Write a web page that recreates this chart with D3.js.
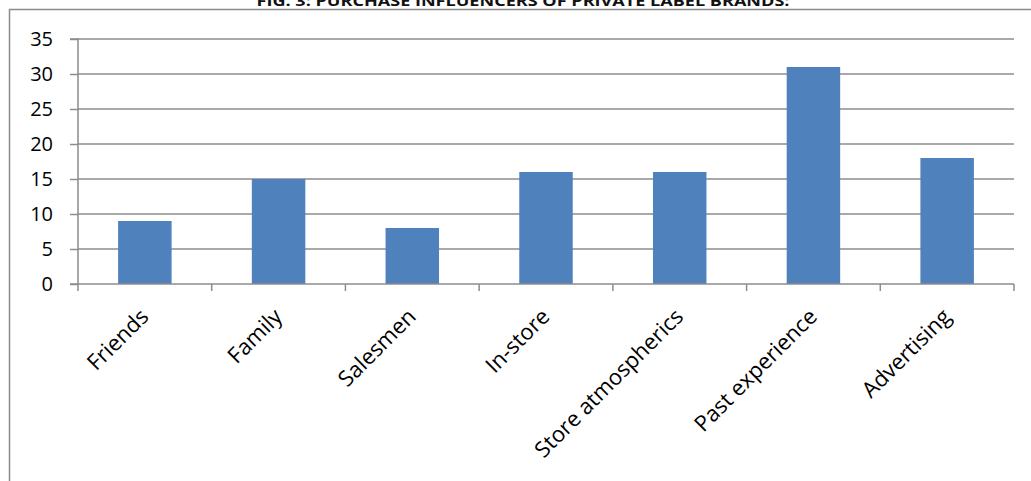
<!DOCTYPE html>
<html>
<head>
<meta charset="utf-8">
<script src="https://cdn.jsdelivr.net/npm/d3@7"></script>
<style>
  body { margin: 0; background: #fff; }
  svg { display: block; }
</style>
</head>
<body>
<div id="chart"></div>
<script>
// Purchase influencers of private label brands
const categories = ["Friends", "Family", "Salesmen", "In-store", "Store atmospherics", "Past experience", "Advertising"];
const values = [9, 15, 8, 16, 16, 31, 18];
const yTicks = [0, 5, 10, 15, 20, 25, 30, 35];
const title = "FIG. 3: PURCHASE INFLUENCERS OF PRIVATE LABEL BRANDS:";

const width = 1031;
const height = 481;
const margin = { top: 39, right: 17, bottom: 197, left: 78 };
const font = "'Open Sans', 'Liberation Sans', sans-serif";

const svg = d3
  .select("#chart")
  .append("svg")
  .attr("width", width)
  .attr("height", height);

// Chart frame (left and top edges visible)
svg
  .append("path")
  .attr("d", `M9.5,${height} V9.5 H${width}`)
  .attr("fill", "none")
  .attr("stroke", "#8c8c8c")
  .attr("stroke-width", 1.5);

// Title, cut off at the top like the source
svg
  .append("text")
  .attr("x", 523)
  .attr("y", 6)
  .attr("text-anchor", "middle")
  .attr("font-family", font)
  .attr("font-weight", "bold")
  .attr("font-size", 15)
  .attr("textLength", 533)
  .attr("lengthAdjust", "spacingAndGlyphs")
  .attr("fill", "#111")
  .text(title);

const x = d3
  .scaleBand()
  .domain(categories)
  .range([margin.left, width - margin.right])
  .paddingInner(0.6)
  .paddingOuter(0.3);

const y = d3
  .scaleLinear()
  .domain([0, 35])
  .range([height - margin.bottom, margin.top]);

const g = svg.append("g");

// Gridlines
g.append("g")
  .selectAll("line")
  .data(yTicks.filter((t) => t > 0))
  .enter()
  .append("line")
  .attr("x1", margin.left)
  .attr("x2", width - margin.right)
  .attr("y1", (d) => y(d))
  .attr("y2", (d) => y(d))
  .attr("stroke", "#8c8c8c")
  .attr("stroke-width", 1.5);

// Bars
g.append("g")
  .selectAll("rect")
  .data(values)
  .enter()
  .append("rect")
  .attr("x", (_d, i) => x(categories[i]))
  .attr("width", x.bandwidth())
  .attr("y", (d) => y(d))
  .attr("height", (d) => y(0) - y(d))
  .attr("fill", "#4f81bd");

// Y axis
const yAxis = g
  .append("g")
  .attr("transform", `translate(${margin.left},0)`)
  .call(d3.axisLeft(y).tickValues(yTicks).tickSize(8).tickPadding(17));
yAxis.select(".domain").attr("stroke", "#8c8c8c").attr("stroke-width", 1.5).attr("d", `M-8,${y(35)}H0V${y(0)}`);
yAxis.selectAll(".tick line").attr("stroke", "#8c8c8c").attr("stroke-width", 1.5);
yAxis
  .selectAll(".tick text")
  .attr("font-family", font)
  .attr("font-size", 20)
  .attr("fill", "#000");

// X axis: ticks at band boundaries
const xAxisG = g.append("g").attr("transform", `translate(0,${y(0)})`);
xAxisG
  .append("line")
  .attr("x1", margin.left - 8)
  .attr("x2", width - margin.right)
  .attr("stroke", "#8c8c8c")
  .attr("stroke-width", 1.5);

const bounds = d3.range(categories.length + 1).map((i) => margin.left + i * (width - margin.left - margin.right) / categories.length);
xAxisG
  .selectAll(".xtick")
  .data(bounds)
  .enter()
  .append("line")
  .attr("x1", (d) => d)
  .attr("x2", (d) => d)
  .attr("y1", 0)
  .attr("y2", 7)
  .attr("stroke", "#8c8c8c")
  .attr("stroke-width", 1.5);

// Rotated category labels
xAxisG
  .selectAll(".xlabel")
  .data(categories)
  .enter()
  .append("text")
  .attr("text-anchor", "end")
  .attr("transform", (d) => `translate(${x(d) + x.bandwidth() / 2 + 5},${34}) rotate(-45)`)
  .attr("font-family", font)
  .attr("font-size", 22)
  .attr("fill", "#000")
  .text((d) => d);
</script>
</body>
</html>
